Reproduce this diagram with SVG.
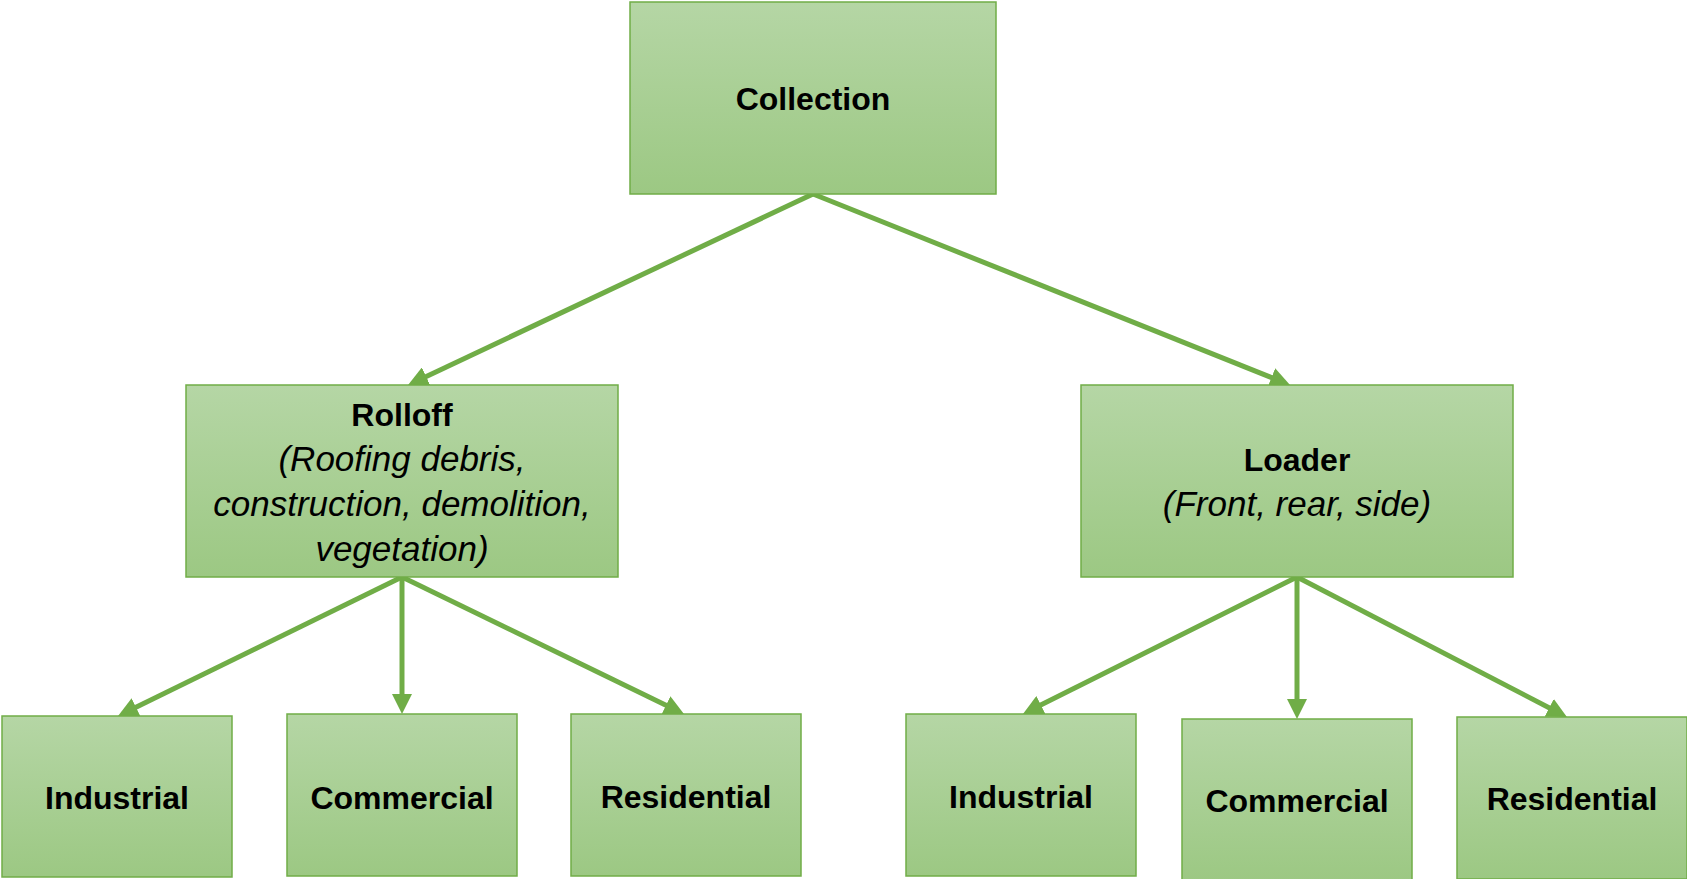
<svg xmlns="http://www.w3.org/2000/svg" width="1687" height="879" viewBox="0 0 1687 879">
<defs>
<linearGradient id="g" x1="0" y1="0" x2="0" y2="1">
<stop offset="0" stop-color="#b5d6a5"/>
<stop offset="1" stop-color="#9cc883"/>
</linearGradient>
<marker id="ah" markerUnits="userSpaceOnUse" markerWidth="20" markerHeight="20" viewBox="0 0 20 20" refX="8" refY="10" orient="auto">
<path d="M0,0 L20,10 L0,20 z" fill="#70ad47"/>
</marker>
<style>
.box{fill:url(#g);stroke:#70ad47;stroke-width:1.5}
.b{font-family:"Liberation Sans",Arial,sans-serif;font-weight:bold;font-size:32px;fill:#000;text-anchor:middle}
.i{font-family:"Liberation Sans",Arial,sans-serif;font-style:italic;font-size:35px;fill:#000;text-anchor:middle}
.c{stroke:#70ad47;stroke-width:5;fill:none;marker-end:url(#ah)}
</style>
</defs>
<rect width="1687" height="879" fill="#fff"/>
<g id="connectors">
<line class="c" x1="813" y1="194" x2="418.9" y2="379.9"/>
<line class="c" x1="813" y1="194" x2="1278.9" y2="380.5"/>
<line class="c" x1="402" y1="577" x2="128.8" y2="710.7"/>
<line class="c" x1="402" y1="577" x2="402" y2="702"/>
<line class="c" x1="402" y1="577" x2="673.2" y2="708.8"/>
<line class="c" x1="1297" y1="577" x2="1033.7" y2="708.6"/>
<line class="c" x1="1297" y1="577" x2="1297" y2="707"/>
<line class="c" x1="1297" y1="577" x2="1556.3" y2="711.5"/>
</g>
<g id="collection">
<rect class="box" x="630" y="2" width="366" height="192"/>
<text class="b" x="813" y="110">Collection</text>
</g>
<g id="rolloff">
<rect class="box" x="186" y="385" width="432" height="192"/>
<text class="b" x="402" y="426">Rolloff</text>
<text class="i" x="402" y="471">(Roofing debris,</text>
<text class="i" x="402" y="516">construction, demolition,</text>
<text class="i" x="402" y="561">vegetation)</text>
</g>
<g id="loader">
<rect class="box" x="1081" y="385" width="432" height="192"/>
<text class="b" x="1297" y="471">Loader</text>
<text class="i" x="1297" y="516">(Front, rear, side)</text>
</g>
<g id="industrial1">
<rect class="box" x="2" y="716" width="230" height="161"/>
<text class="b" x="117" y="809">Industrial</text>
</g>
<g id="commercial1">
<rect class="box" x="287" y="714" width="230" height="162"/>
<text class="b" x="402" y="809">Commercial</text>
</g>
<g id="residential1">
<rect class="box" x="571" y="714" width="230" height="162"/>
<text class="b" x="686" y="808">Residential</text>
</g>
<g id="industrial2">
<rect class="box" x="906" y="714" width="230" height="162"/>
<text class="b" x="1021" y="808">Industrial</text>
</g>
<g id="commercial2">
<rect class="box" x="1182" y="719" width="230" height="162"/>
<text class="b" x="1297" y="812">Commercial</text>
</g>
<g id="residential2">
<rect class="box" x="1457" y="717" width="230" height="162"/>
<text class="b" x="1572" y="810">Residential</text>
</g>
</svg>
